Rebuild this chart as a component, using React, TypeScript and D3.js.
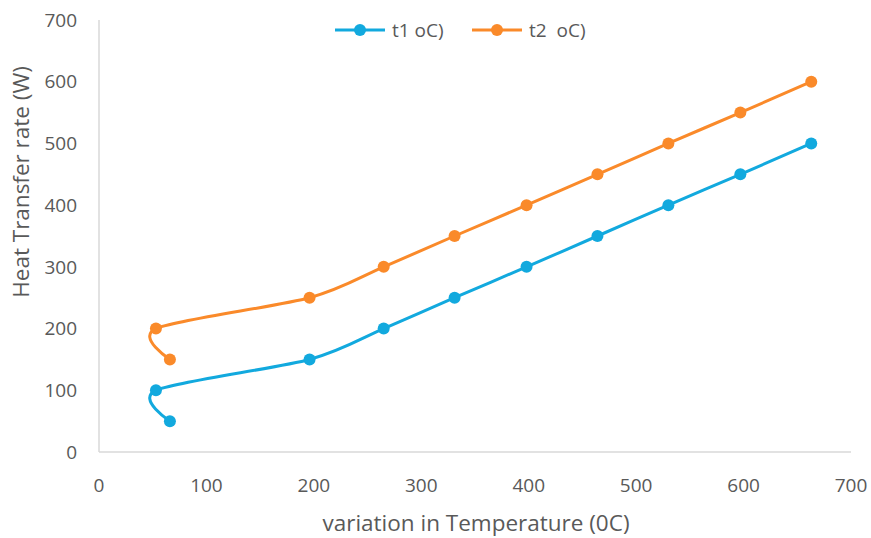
import React from "react";
import * as d3 from "d3";

const xValues = [66, 53, 196, 265, 331, 398, 464, 530, 597, 663];
const t1Values = [50, 100, 150, 200, 250, 300, 350, 400, 450, 500];
const t2Values = [150, 200, 250, 300, 350, 400, 450, 500, 550, 600];
const xTicks = [0, 100, 200, 300, 400, 500, 600, 700];
const yTicks = [0, 100, 200, 300, 400, 500, 600, 700];
const seriesNames = ["t1 oC)", "t2  oC)"];
const colors = ["#12A9DE", "#FA8A2A"];

const W = 871;
const H = 538;
const font = "'Open Sans', 'Noto Sans', sans-serif";

export default function App() {
  const x = d3.scaleLinear().domain([0, 700]).range([99, 851]);
  const y = d3.scaleLinear().domain([0, 700]).range([452, 20]);
  const line = d3
    .line<[number, number]>()
    .x((d) => x(d[0]))
    .y((d) => y(d[1]))
    .curve(d3.curveCardinal.tension(0.15));
  const series = [t1Values, t2Values];
  const legendX = [335, 472];
  return (
    <svg width={W} height={H} style={{ position: "absolute", left: 0, top: 0, background: "#fff" }}>
      <line x1={x(0)} x2={x(0)} y1={y(700)} y2={y(0)} stroke="#d9d9d9" strokeWidth={1.5} />
      <line x1={x(0)} x2={x(700)} y1={y(0)} y2={y(0)} stroke="#d9d9d9" strokeWidth={1.5} />
      {yTicks.map((t) => (
        <text key={"y" + t} x={77} y={y(t)} dy="0.35em" textAnchor="end" fontSize={19} fill="#595959" fontFamily={font}>
          {t}
        </text>
      ))}
      {xTicks.map((t) => (
        <text key={"x" + t} x={x(t)} y={485} dy="0.35em" textAnchor="middle" fontSize={19} fill="#595959" fontFamily={font}>
          {t}
        </text>
      ))}
      <text x={476} y={523} dy="0.35em" textAnchor="middle" fontSize={22.5} fill="#595959" fontFamily={font}>
        variation in Temperature (0C)
      </text>
      <text
        transform={`translate(21,182) rotate(-90)`}
        dy="0.35em"
        textAnchor="middle"
        fontSize={22.5}
        fill="#595959"
        fontFamily={font}
      >
        Heat Transfer rate (W)
      </text>
      {series.map((vals, si) => {
        const pts = vals.map((v, i) => [xValues[i], v] as [number, number]);
        return (
          <g key={si}>
            <path d={line(pts) || ""} fill="none" stroke={colors[si]} strokeWidth={3} />
            {pts.map((p, i) => (
              <circle key={i} cx={x(p[0])} cy={y(p[1])} r={6} fill={colors[si]} />
            ))}
          </g>
        );
      })}
      {seriesNames.map((n, i) => (
        <g key={n}>
          <line x1={legendX[i]} x2={legendX[i] + 50} y1={30} y2={30} stroke={colors[i]} strokeWidth={3} />
          <circle cx={legendX[i] + 25} cy={30} r={6} fill={colors[i]} />
          <text x={legendX[i] + 57} y={30} dy="0.35em" fontSize={19} fill="#595959" fontFamily={font} style={{ whiteSpace: "pre" }}>
            {n}
          </text>
        </g>
      ))}
    </svg>
  );
}
